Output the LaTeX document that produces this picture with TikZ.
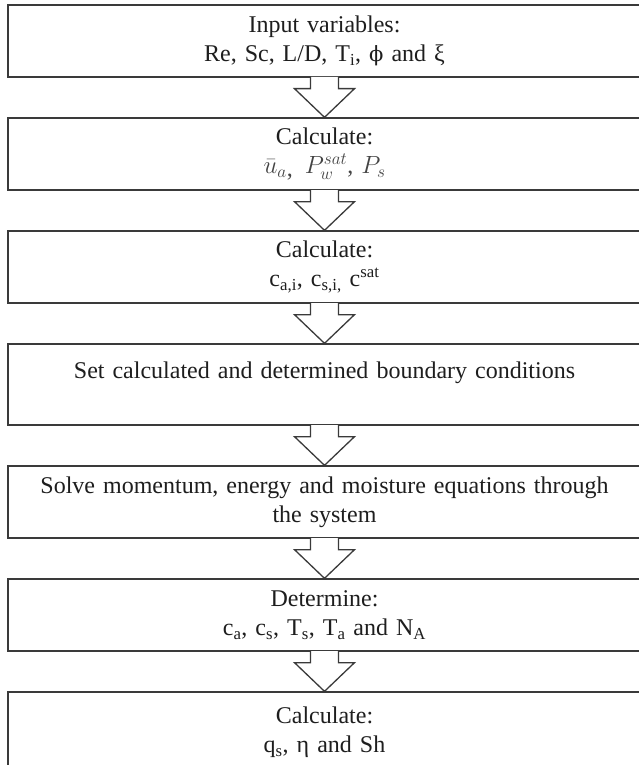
\documentclass[tikz,border=0pt]{standalone}
\usepackage{fontspec}
\setmainfont{Liberation Serif}
\newfontfamily\grkfont{DejaVu Serif}
\usetikzlibrary{calc}
\definecolor{linecol}{HTML}{3A3A3A}
\definecolor{txtcol}{HTML}{1E1E1E}
\definecolor{mathcol}{HTML}{444444}
\tikzset{
  stepbox/.style={draw=linecol, line width=1.3pt, minimum width=633pt,
    text width=620pt, align=center, inner sep=0pt, text=txtcol,
    font=\fontsize{24}{29}\selectfont},
  blockarrow/.style={draw=linecol, line width=1.3pt, fill=white, line join=miter}
}
\newcommand\flowarrow[2]{%
  \filldraw[blockarrow] ($(#1.south)+(-14,-0.65)$) -- ($(#1.south)+(-14,11)$)
    -- ($(#1.south)+(-30,11)$) -- (#2.north) -- ($(#1.south)+(30,11)$)
    -- ($(#1.south)+(14,11)$) -- ($(#1.south)+(14,-0.65)$);}
\begin{document}
\begin{tikzpicture}[x=1pt,y=-1pt]
\useasboundingbox[fill=white] (0,0) rectangle (638,765);
\node[stepbox, minimum height=72pt] (b1) at (324.5,41)
  {Input variables:\\Re, Sc, L/D, T\textsubscript{i}, {\grkfont\fontsize{21}{29}\selectfont ϕ} and ξ};
\node[stepbox, minimum height=72pt] (b2) at (324.5,154)
  {Calculate:\\\textcolor{mathcol}{$\bar{u}_{a}$\raisebox{-0.25ex}{,}\, $P_w^{sat}$, $P_s$}};
\node[stepbox, minimum height=72pt] (b3) at (324.5,267)
  {Calculate:\\c\textsubscript{a,i}, c\textsubscript{s,i,} c\textsuperscript{sat}};
\node[stepbox, minimum height=81pt] (b4) at (324.5,384.5)
  {Set calculated and determined boundary conditions\\\mbox{}};
\node[stepbox, minimum height=72pt] (b5) at (324.5,502)
  {Solve momentum, energy and moisture equations through\\the system};
\node[stepbox, minimum height=72pt] (b6) at (324.5,615)
  {Determine:\\c\textsubscript{a}, c\textsubscript{s}, T\textsubscript{s}, T\textsubscript{a} and N\textsubscript{A}};
\node[stepbox, minimum height=80pt] (b7) at (324.5,732)
  {Calculate:\\q\textsubscript{s}, η and Sh};
\flowarrow{b1}{b2}
\flowarrow{b2}{b3}
\flowarrow{b3}{b4}
\flowarrow{b4}{b5}
\flowarrow{b5}{b6}
\flowarrow{b6}{b7}
\end{tikzpicture}
\end{document}
